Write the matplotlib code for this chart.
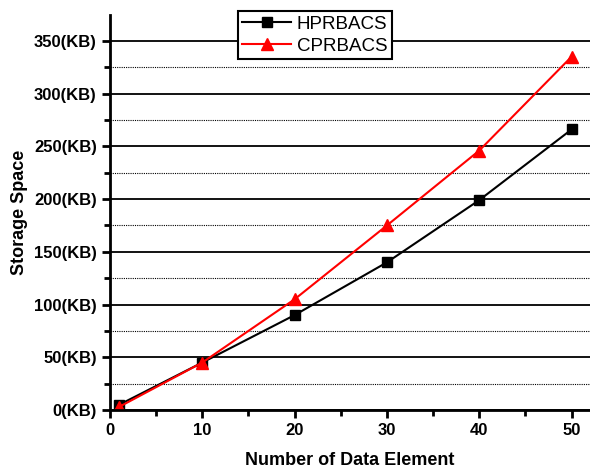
import numpy as np
import matplotlib
matplotlib.use("Agg")
import matplotlib.pyplot as plt
from matplotlib.ticker import MultipleLocator, FuncFormatter

plt.rcParams['font.family'] = ['Liberation Sans', 'DejaVu Sans']

# data
elements = [1, 10, 20, 30, 40, 50]
hprbacs = [5, 45, 90, 140, 199, 266]
cprbacs = [3, 45, 105, 175, 246, 335]

fig = plt.figure(figsize=(5.9, 4.71), dpi=100)
ax = fig.add_axes([0.1864, 0.1295, 0.8136, 0.8385])

# grid: solid major, dotted minor
ax.yaxis.set_major_locator(MultipleLocator(50))
ax.yaxis.set_minor_locator(MultipleLocator(25))
ax.xaxis.set_major_locator(MultipleLocator(10))
ax.xaxis.set_minor_locator(MultipleLocator(5))
ax.grid(True, which='major', axis='y', color='black', linewidth=1.3, linestyle='-')
ax.grid(True, which='minor', axis='y', color='black', linewidth=0.8, linestyle=(0, (1, 1)))
ax.set_axisbelow(True)

ax.plot(elements, hprbacs, color='black', marker='s', markersize=7, linewidth=1.5, label='HPRBACS')
ax.plot(elements, cprbacs, color='red', marker='^', markersize=9, linewidth=1.5, label='CPRBACS')

ax.set_xlim(0, 52)
ax.set_ylim(0, 374.5)

for s in ['top', 'right']:
    ax.spines[s].set_visible(False)
for s in ['left', 'bottom']:
    ax.spines[s].set_linewidth(2)

ax.yaxis.set_major_formatter(FuncFormatter(lambda v, p: '{:d}(KB)'.format(int(v))))
ax.tick_params(axis='both', which='major', direction='out', length=6, width=2, labelsize=12)
ax.tick_params(axis='both', which='minor', direction='out', length=4, width=2)
for lab in ax.get_xticklabels() + ax.get_yticklabels():
    lab.set_fontweight('bold')

ax.set_xlabel('Number of Data Element', fontsize=13, fontweight='bold', labelpad=10)
ax.set_ylabel('Storage Space', fontsize=13, fontweight='bold', labelpad=4)

leg = ax.legend(loc='upper left', bbox_to_anchor=(0.266, 1.01), fontsize=13.5, frameon=True,
                fancybox=False, edgecolor='black', borderpad=0.25, handlelength=2.6,
                handletextpad=0.3, labelspacing=0.25, borderaxespad=0)
leg.get_frame().set_linewidth(1.5)
leg.get_frame().set_alpha(1)

plt.savefig('out.png', dpi=100)
